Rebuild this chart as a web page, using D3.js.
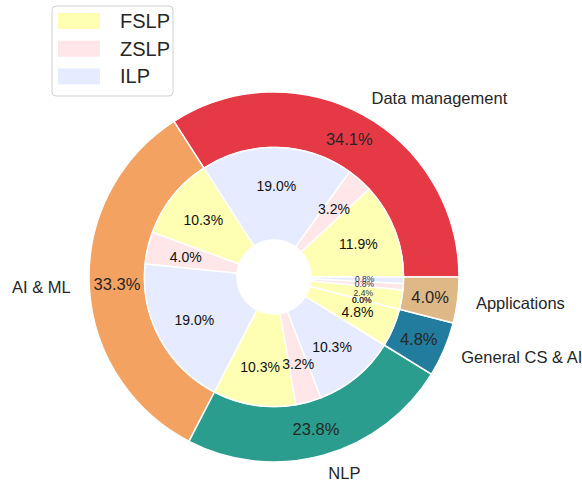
<!DOCTYPE html>
<html>
<head>
<meta charset="utf-8">
<script src="https://cdn.jsdelivr.net/npm/d3@7"></script>
<style>
  body { margin: 0; background: #fff; }
  svg { font-family: "Liberation Sans", Arial, sans-serif; }
</style>
</head>
<body>
<svg id="chart"></svg>
<script>
// outer ring: research area share
const categories = ["Data management", "AI & ML", "NLP", "General CS & AI", "Applications"];
const outerPct = [34.1, 33.3, 23.8, 4.8, 4.0];
const outerColors = ["#E63946", "#F4A261", "#2A9D8F", "#227C9D", "#DEB887"];

// inner ring: split of each area by method
const methods = ["FSLP", "ZSLP", "ILP"];
const fslp = [11.9, 10.3, 10.3, 4.8, 2.4];
const zslp = [3.2, 4.0, 3.2, 0.0, 0.8];
const ilp = [19.0, 19.0, 10.3, 0.0, 0.8];
const methodColors = ["#FFFFB4", "#FFE6E8", "#E6EBFF"];

const width = 582, height = 483;
const cx = 274, cy = 277, R = 185;

const svg = d3.select("#chart")
  .attr("width", width)
  .attr("height", height);

const g = svg.append("g")
  .attr("transform", `translate(${cx}, ${cy})`);

// matplotlib style: start at 3 o'clock, go counterclockwise
const pie = d3.pie()
  .sort(null)
  .value(d => d.value)
  .startAngle(Math.PI / 2)
  .endAngle(Math.PI / 2 - 2 * Math.PI);

const outerData = categories.map((c, i) => ({name: c, value: outerPct[i], color: outerColors[i]}));
const innerData = [];
categories.forEach((c, i) => {
  [fslp[i], zslp[i], ilp[i]].forEach((v, j) => {
    innerData.push({name: c, method: methods[j], value: v, color: methodColors[j]});
  });
});

const outerArc = d3.arc().innerRadius(0.7 * R).outerRadius(R);
const innerArc = d3.arc().innerRadius(0.2 * R).outerRadius(0.7 * R);
const outerPctArc = d3.arc().innerRadius(0.85 * R).outerRadius(0.85 * R);
const innerPctArc = d3.arc().innerRadius(0.49 * R).outerRadius(0.49 * R);
const labelArc = d3.arc().innerRadius(1.1 * R).outerRadius(1.1 * R);

const outerArcs = pie(outerData);
const innerArcs = pie(innerData);

g.selectAll("path.outer")
  .data(outerArcs)
  .join("path")
  .attr("class", "outer")
  .attr("d", outerArc)
  .attr("fill", d => d.data.color)
  .attr("stroke", "#fff")
  .attr("stroke-width", 1.5)
  .attr("stroke-linejoin", "round");

g.selectAll("path.inner")
  .data(innerArcs)
  .join("path")
  .attr("class", "inner")
  .attr("d", innerArc)
  .attr("fill", d => d.data.color)
  .attr("stroke", "#fff")
  .attr("stroke-width", 1.5)
  .attr("stroke-linejoin", "round");

// outer percentages
g.selectAll("text.outer-pct")
  .data(outerArcs)
  .join("text")
  .attr("class", "outer-pct")
  .attr("transform", d => `translate(${outerPctArc.centroid(d)})`)
  .attr("text-anchor", "middle")
  .attr("dominant-baseline", "central")
  .style("font-size", "16.5px")
  .attr("fill", "#262626")
  .text(d => d.data.value.toFixed(1) + "%");

// inner percentages, small wedges get a smaller font
g.selectAll("text.inner-pct")
  .data(innerArcs)
  .join("text")
  .attr("class", "inner-pct")
  .attr("transform", d => `translate(${innerPctArc.centroid(d)})`)
  .attr("text-anchor", "middle")
  .attr("dominant-baseline", "central")
  .style("font-size", d => d.data.value < 3 ? "8.5px" : "14px")
  .attr("fill", d => d.data.value < 3 ? "#333" : "#111")
  .text(d => d.data.value.toFixed(1) + "%");

// category labels
g.selectAll("text.cat")
  .data(outerArcs)
  .join("text")
  .attr("class", "cat")
  .each(function(d) {
    const [x, y] = labelArc.centroid(d);
    d3.select(this)
      .attr("x", x)
      .attr("y", y)
      .attr("text-anchor", x > 0 ? "start" : "end");
  })
  .attr("dominant-baseline", "central")
  .style("font-size", "16.5px")
  .attr("fill", "#262626")
  .text(d => d.data.name);

// legend
const legend = svg.append("g").attr("transform", "translate(52, 6)");
legend.append("rect")
  .attr("width", 121)
  .attr("height", 90)
  .attr("rx", 4)
  .attr("fill", "#fff")
  .attr("stroke", "#d0d0d0")
  .attr("stroke-width", 1);

const items = legend.selectAll("g.item")
  .data(methods)
  .join("g")
  .attr("class", "item")
  .attr("transform", (d, i) => `translate(6, ${15 + i * 27.7})`);

items.append("rect")
  .attr("y", -8)
  .attr("width", 42)
  .attr("height", 16)
  .attr("fill", (d, i) => methodColors[i]);

items.append("text")
  .attr("x", 62)
  .attr("dominant-baseline", "central")
  .style("font-size", "20px")
  .attr("fill", "#262626")
  .text(d => d);
</script>
</body>
</html>
